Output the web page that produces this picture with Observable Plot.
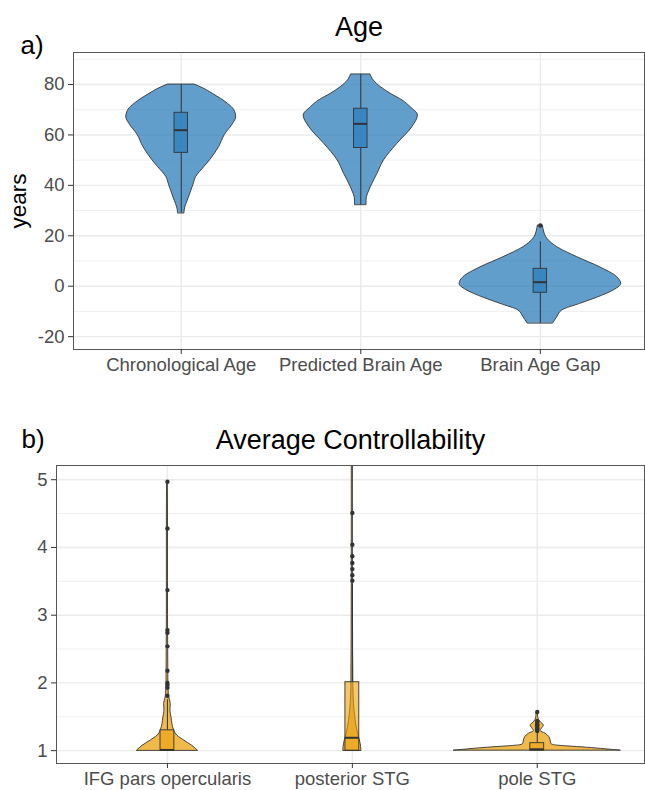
<!DOCTYPE html>
<html>
<head>
<meta charset="utf-8">
<script src="https://cdn.jsdelivr.net/npm/d3@7"></script>
<script src="https://cdn.jsdelivr.net/npm/@observablehq/plot@0.6"></script>
<style>
  html, body { margin: 0; padding: 0; background: #fff; overflow: hidden; }
  #chart svg { display: block; }
</style>
</head>
<body>
<div id="chart"></div>
<script>
// ---------------- Panel a) Age ----------------
const ageCategories = ["Chronological Age", "Predicted Brain Age", "Brain Age Gap"];
const ageTicks = [-20, 0, 20, 40, 60, 80];
const ageMinorTicks = [-10, 10, 30, 50, 70, 90];

// violin outlines: value (years) and half-width (fraction of category spacing)
const chronoValues = [29, 30, 35, 40, 43.3, 47.2, 50, 55.2, 60, 64.4, 67, 70, 72.4, 76.3, 78.5, 80];
const chronoWidths = [0.018, 0.019, 0.042, 0.067, 0.083, 0.128, 0.161, 0.211, 0.243, 0.289, 0.306, 0.294, 0.259, 0.176, 0.122, 0.074];
const predValues = [32.3, 34, 39.3, 44.6, 49.9, 56.5, 63.1, 67.7, 71, 73.7, 76.3, 79, 81.6, 84];
const predWidths = [0.032, 0.032, 0.056, 0.093, 0.129, 0.204, 0.287, 0.318, 0.278, 0.232, 0.167, 0.111, 0.072, 0.054];
const gapValues = [-14.7, -12.3, -9.6, -7, -4.4, -2, 0.9, 3.6, 7.5, 11.5, 15.5, 18.8, 22.1, 24.1];
const gapWidths = [0.072, 0.094, 0.122, 0.222, 0.322, 0.4, 0.45, 0.428, 0.333, 0.206, 0.094, 0.039, 0.019, 0.014];

// box plot statistics
const ageLower = [29, 32.3, -14.7];
const ageQ1 = [52.9, 54.8, -2.6];
const ageMedian = [61.9, 64.4, 1.6];
const ageQ3 = [68.8, 70.4, 6.9];
const ageUpper = [80, 84, 17.6];
const gapOutliers = [24.1];

// ---------------- Panel b) Average Controllability ----------------
const ctrlCategories = ["IFG pars opercularis", "posterior STG", "pole STG"];
const ctrlTicks = [1, 2, 3, 4, 5];
const ctrlMinorTicks = [1.5, 2.5, 3.5, 4.5];

const ifgValues = [1.0, 1.07, 1.15, 1.22, 1.30, 1.39, 1.49, 1.59, 1.69, 1.76, 1.84, 2.0, 2.5, 3.0, 3.5, 4.0, 4.5, 4.97];
const ifgWidths = [0.164, 0.135, 0.09, 0.054, 0.036, 0.027, 0.022, 0.016, 0.018, 0.012, 0.007, 0.005, 0.004, 0.003, 0.003, 0.003, 0.003, 0.002];
const postValues = [1.0, 1.1, 1.25, 1.44, 1.69, 1.94, 2.5, 3.5, 4.5, 5.5, 6.5];
const postWidths = [0.049, 0.045, 0.031, 0.018, 0.009, 0.0055, 0.004, 0.003, 0.003, 0.003, 0.003];
const poleValues = [1.0, 1.02, 1.043, 1.063, 1.08, 1.1, 1.15, 1.2, 1.25, 1.29, 1.33, 1.37, 1.41, 1.45, 1.5, 1.57];
const poleWidths = [0.45, 0.368, 0.27, 0.162, 0.092, 0.076, 0.072, 0.065, 0.045, 0.018, 0.027, 0.036, 0.022, 0.01, 0.005, 0.003];

const ctrlLower = [1.0, 1.0, 1.0];
const ctrlQ1 = [1.0, 1.0, 1.0];
const ctrlMedian = [1.01, 1.19, 1.02];
const ctrlQ3 = [1.30, 2.01, 1.11];
const ctrlUpper = [1.75, 3.45, 1.27];
const ifgOutliers = [1.81, 1.93, 1.97, 2.0, 2.18, 2.54, 2.74, 2.78, 3.37, 4.28, 4.97];
const postOutliers = [3.51, 3.59, 3.68, 3.77, 3.87, 4.04, 4.51, 5.6, 6.2];
const poleOutliers = [1.29, 1.31, 1.33, 1.35, 1.37, 1.39, 1.42, 1.44, 1.57];

// ---------------- helpers ----------------
const FONT = "'Liberation Sans', Arial, Helvetica, sans-serif";
const BOX_HALF = 0.0375;

function violinRows(cats, valueLists, widthLists) {
  const rows = [];
  cats.forEach((cat, i) => {
    valueLists[i].forEach((v, j) => rows.push({cat, pos: i + 1, v, w: widthLists[i][j]}));
  });
  return rows;
}
function boxRows(cats, lo, q1, med, q3, hi) {
  return cats.map((cat, i) => ({cat, pos: i + 1, lo: lo[i], q1: q1[i], med: med[i], q3: q3[i], hi: hi[i]}));
}
function outlierRows(lists) {
  const rows = [];
  lists.forEach((list, i) => list.forEach(v => rows.push({pos: i + 1, v})));
  return rows;
}

function panel({cats, violins, boxes, outliers, yDomain, ticks, minor, color, boxOpacity,
                height, marginTop, marginBottom, marginLeft, title, titleDy, letter, letterDx, letterDy, ylabel}) {
  const marks = [
    Plot.ruleY(minor, {stroke: "#ebebeb", strokeWidth: 0.8}),
    Plot.ruleY(ticks, {stroke: "#ebebeb", strokeWidth: 1.4}),
    Plot.ruleX([1, 2, 3], {stroke: "#ebebeb", strokeWidth: 1.4}),
    Plot.areaX(violins, {
      y: "v", x1: d => d.pos - d.w, x2: d => d.pos + d.w, z: "cat",
      fill: color, fillOpacity: 0.75, stroke: "#333333", strokeWidth: 0.9,
      curve: "monotone-y", clip: true
    }),
    Plot.ruleX(boxes, {x: "pos", y1: "lo", y2: "q1", stroke: "#333333", strokeWidth: 1, clip: true}),
    Plot.ruleX(boxes, {x: "pos", y1: "q3", y2: "hi", stroke: "#333333", strokeWidth: 1, clip: true}),
    Plot.rect(boxes, {
      x1: d => d.pos - BOX_HALF, x2: d => d.pos + BOX_HALF, y1: "q1", y2: "q3",
      fill: color, fillOpacity: boxOpacity, stroke: "#333333", strokeWidth: 0.9
    }),
    Plot.ruleY(boxes, {y: "med", x1: d => d.pos - BOX_HALF, x2: d => d.pos + BOX_HALF, stroke: "#333333", strokeWidth: 2}),
    Plot.dot(outliers, {x: "pos", y: "v", r: 2.2, fill: "#333333", clip: true}),
    Plot.frame({stroke: "#555555", strokeWidth: 1}),
    Plot.axisY({ticks, tickFormat: d => String(d), tickSize: 5, tickPadding: 4, fontSize: 18.5,
                stroke: "#333333", fill: "#4d4d4d", label: null}),
    Plot.axisX({ticks: [1, 2, 3], tickFormat: d => cats[d - 1], tickSize: 5, tickPadding: 3, fontSize: 18.5,
                stroke: "#333333", fill: "#4d4d4d", label: null}),
    Plot.text([title], {text: d => d, frameAnchor: "top", dy: titleDy, fontSize: 27, fill: "#000"}),
    Plot.text([letter], {text: d => d, frameAnchor: "top-left", textAnchor: "start", dx: letterDx, dy: letterDy, fontSize: 26, fill: "#000"})
  ];
  if (ylabel) {
    marks.push(Plot.text([ylabel], {text: d => d, frameAnchor: "left", textAnchor: "middle", rotate: -90, dx: -55, fontSize: 22.5, fill: "#000"}));
  }
  return Plot.plot({
    width: 645, height, marginTop, marginBottom, marginLeft, marginRight: 1,
    x: {domain: [0.4, 3.58]},
    y: {domain: yDomain},
    style: {fontFamily: FONT, background: "#fff", overflow: "visible"},
    marks
  });
}

const chartA = panel({
  cats: ageCategories,
  violins: violinRows(ageCategories, [chronoValues, predValues, gapValues], [chronoWidths, predWidths, gapWidths]),
  boxes: boxRows(ageCategories, ageLower, ageQ1, ageMedian, ageQ3, ageUpper),
  outliers: outlierRows([[], [], gapOutliers]),
  yDomain: [-25.1, 92.7], ticks: ageTicks, minor: ageMinorTicks,
  color: "#2e7ebb", boxOpacity: 0.75,
  height: 380, marginTop: 52, marginBottom: 31, marginLeft: 73,
  title: "Age", titleDy: -36, letter: "a)", letterDx: -53, letterDy: -17, ylabel: "years"
});

const chartB = panel({
  cats: ctrlCategories,
  violins: violinRows(ctrlCategories, [ifgValues, postValues, poleValues], [ifgWidths, postWidths, poleWidths]),
  boxes: boxRows(ctrlCategories, ctrlLower, ctrlQ1, ctrlMedian, ctrlQ3, ctrlUpper),
  outliers: outlierRows([ifgOutliers, postOutliers, poleOutliers]),
  yDomain: [0.81, 5.21], ticks: ctrlTicks, minor: ctrlMinorTicks,
  color: "#eba20f", boxOpacity: 0.6,
  height: 410, marginTop: 85, marginBottom: 27, marginLeft: 56,
  title: "Average Controllability", titleDy: -36, letter: "b)", letterDx: -35, letterDy: -36, ylabel: null
});

document.getElementById("chart").append(chartA, chartB);
</script>
</body>
</html>
